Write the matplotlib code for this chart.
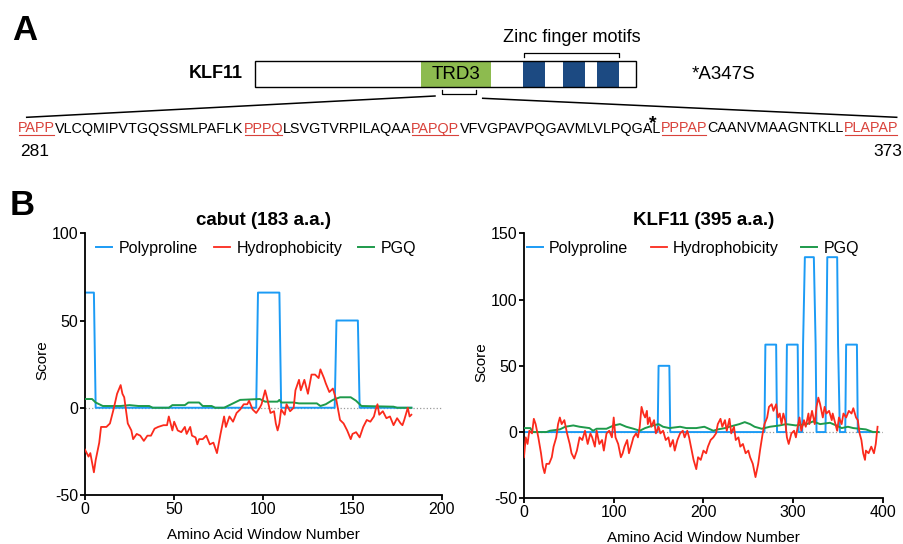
import numpy as np
import matplotlib
matplotlib.use('Agg')
import matplotlib.pyplot as plt
from matplotlib.patches import Rectangle
from matplotlib.transforms import IdentityTransform

plt.rcParams['font.family'] = ['Liberation Sans', 'DejaVu Sans']
plt.rcParams['axes.unicode_minus'] = False

# ---------------- 数据 ----------------
# cabut (183 a.a.)
cabut_poly_x = [0, 5, 6, 96, 97, 109, 110, 140, 141, 153, 154, 183]
cabut_poly_y = [66, 66, 0, 0, 66, 66, 0, 0, 50, 50, 0, 0]

cabut_hyd_x = [0, 2, 3, 5, 6, 8, 9, 12, 14, 16, 18, 20, 21, 22, 24, 26, 27, 29, 31, 33,
               35, 37, 39, 41, 44, 46, 47, 49, 50, 52, 54, 56, 57, 59, 60, 62, 63, 64, 66, 68,
               70, 72, 74, 76, 78, 79, 81, 83, 85, 87, 89, 91, 92, 94, 96, 98, 99, 101, 102, 104,
               106, 107, 108, 109, 110, 112, 113, 115, 117, 118, 120, 121, 123, 125, 127, 129, 131, 132, 134, 135,
               137, 139, 141, 143, 145, 147, 149, 150, 152, 154, 156, 158, 160, 162, 163, 164, 165, 167, 169, 171,
               173, 175, 177, 178, 179, 181, 182, 183]
cabut_hyd_y = [-24, -28, -26, -37, -30, -20, -11, -11, -9, -1, 8, 13, 8, 6, -9, -13, -18, -15, -16, -19,
               -16, -16, -12, -11, -10, -10, -5, -13, -8, -13, -14, -11, -15, -11, -16, -17, -21, -18, -18, -16,
               -21, -20, -26, -15, -5, -11, -5, -8, -3, -1, 2, 2, 4, -1, -3, 0, 2, 10, 6, -3,
               -2, -9, -13, -9, -1, -4, 2, -2, 0, 10, 16, 10, 16, 8, 19, 19, 17, 22, 17, 14,
               9, 11, 4, -7, -9, -13, -18, -15, -14, -17, -11, -7, -8, -5, -1, 2, -4, -2, -6, -5,
               -10, -6, -9, -10, -7, 0, -5, -4]

cabut_pgq_x = [0, 4, 6, 8, 10, 20, 25, 30, 36, 38, 47, 49, 56, 58, 64, 66, 71, 73, 78, 82,
               87, 98, 101, 108, 109, 110, 117, 120, 130, 132, 135, 139, 143, 149, 152, 155, 173, 175, 183]
cabut_pgq_y = [5, 5, 3, 2, 1, 1, 1.5, 1, 1, 0, 0, 1.5, 1.5, 3, 3, 1, 1, 0, 0, 2,
               4.5, 5, 3.5, 3.5, 4.5, 3, 3, 2.5, 2.5, 1, 2, 4.5, 6, 6, 4, 1, 0.6, 0, 0]

# KLF11 (395 a.a.)
klf_poly_x = [0, 149, 150, 162, 163, 268, 269, 281, 282, 292, 293, 305, 306, 310, 311, 313,
              323, 325, 326, 336, 337, 338, 349, 350, 352, 358, 359, 371, 372, 395]
klf_poly_y = [0, 0, 50, 50, 0, 0, 66, 66, 0, 0, 66, 66, 0, 0, 66, 132,
              132, 66, 0, 0, 66, 132, 132, 66, 0, 0, 66, 66, 0, 0]

klf_hyd_x = [0, 2, 4, 6, 9, 11, 13, 16, 19, 21, 23, 25, 28, 31, 33, 36, 38, 40, 42, 45,
             48, 51, 53, 56, 59, 62, 65, 68, 71, 74, 76, 79, 81, 84, 87, 89, 92, 95, 98, 100,
             102, 105, 108, 110, 112, 115, 117, 120, 122, 125, 127, 129, 131, 133, 135, 137, 138, 140, 142, 145,
             147, 150, 152, 155, 158, 161, 163, 166, 168, 171, 174, 177, 179, 182, 184, 187, 189, 192, 194, 197,
             200, 203, 205, 208, 211, 214, 216, 219, 221, 224, 226, 229, 231, 234, 236, 239, 241, 244, 247, 250,
             252, 255, 258, 261, 263, 266, 268, 271, 273, 276, 278, 281, 283, 285, 287, 289, 291, 293, 295, 298,
             301, 303, 305, 307, 309, 312, 314, 317, 318, 321, 324, 326, 328, 330, 333, 335, 337, 340, 343, 344,
             347, 349, 351, 354, 356, 359, 362, 365, 367, 370, 372, 374, 376, 378, 380, 381, 384, 387, 390, 392,
             394]
klf_hyd_y = [-19, -4, -9, 1, -1, 10, 6, -4, -16, -26, -31, -24, -24, -19, -11, -4, 6, 11, 6, 9,
             -1, -9, -16, -20, -14, -4, -6, 1, -9, -1, -4, -11, 1, -9, -6, -14, -1, 1, -4, 11,
             -4, -9, -19, -16, -11, -6, -16, -9, -4, -1, -4, 4, 19, 14, 11, 16, 6, 11, 4, 9,
             -1, 4, -1, 1, -6, -4, -11, -6, -14, -6, -1, 1, -4, 1, -4, -14, -21, -28, -19, -21,
             -14, -16, -11, -6, -4, -1, 6, 10, 4, 9, 1, 10, -1, 4, -6, -4, -11, -9, -16, -14,
             -19, -24, -34, -24, -14, -1, 6, 11, 19, 21, 16, 21, 11, 14, 6, 14, 9, -4, -9, -1,
             1, -4, 4, 11, 1, 9, 4, 14, 6, 16, 6, 19, 26, 21, 11, 19, 14, 16, 9, 14,
             6, 1, 11, 6, 14, 11, 16, 14, 18, 11, 9, -1, -6, -16, -21, -14, -16, -11, -16, -9,
             4]

klf_pgq_x = [0, 7, 10, 25, 29, 40, 46, 55, 62, 73, 77, 81, 92, 100, 107, 114, 122, 129, 135, 144,
             150, 155, 162, 174, 181, 192, 201, 211, 216, 224, 229, 240, 246, 252, 257, 265, 274, 285, 292, 303,
             315, 322, 330, 341, 348, 354, 361, 367, 374, 381, 389, 395]
klf_pgq_y = [3, 3, 0, 0, 1, 2, 4, 5, 4, 3, 1, 2.5, 2.5, 5, 6, 4, 2.5, 1, 3, 5,
             6, 4, 3, 4, 3, 3, 4, 1, 2, 3, 4, 6, 7.5, 6, 4, 2.5, 4, 5, 6, 5,
             6, 8, 6, 7, 5, 3, 4, 3, 2.5, 2, 0, 0]

# A 部分的序列片段 (文字, 是否标红)
seq_segments = [('PAPP', True), ('VLCQMIPVTGQSSMLPAFLK', False), ('PPPQ', True),
                ('LSVGTVRPILAQAA', False), ('PAPQP', True), ('VFVGPAVPQGAVMLVLPQGAL', False),
                ('PPPAP', True), ('CAANVMAAGNTKLL', False), ('PLAPAP', True)]

c_blue = '#1b9bf5'
c_red = '#fb2a1c'
c_green = '#1e9a4b'
c_seq_red = '#d9423b'


def ink_extent(s, size):
    # 在草稿画布上画出文字, 找出墨迹的左右边界 (相对锚点, 像素)
    f = plt.figure(figsize=(12, 0.6), dpi=100)
    f.text(10, 30, s, fontsize=size, ha='left', va='center', transform=IdentityTransform())
    f.canvas.draw()
    a = np.asarray(f.canvas.buffer_rgba())[:, :, 0]
    cols = np.where((a < 230).any(axis=0))[0]
    plt.close(f)
    return cols.min() - 10, cols.max() + 1 - 10


fig = plt.figure(figsize=(9.04, 5.44), dpi=100)

# ---------------- A ----------------
ax0 = fig.add_axes([0, 0, 1, 1])
ax0.set_xlim(0, 904)
ax0.set_ylim(544, 0)
ax0.axis('off')

ax0.text(12, 40, 'A', fontsize=25, fontweight='bold', ha='left', va='baseline')
ax0.text(243, 74, 'KLF11', fontsize=13, fontweight='bold', ha='right', va='center')
ax0.add_patch(Rectangle((421, 61), 70, 26, fc='#8dbb4f', ec='none'))
for x0 in [523, 563, 597]:
    ax0.add_patch(Rectangle((x0, 61), 22.5, 26, fc='#1c4a82', ec='none'))
ax0.add_patch(Rectangle((255, 61), 381, 26, fc='none', ec='black', lw=1.0))
ax0.text(456, 74.5, 'TRD3', fontsize=13.5, ha='center', va='center')
ax0.text(692, 74.5, '*A347S', fontsize=13.5, ha='left', va='center')
ax0.text(572, 41.5, 'Zinc finger motifs', fontsize=13, ha='center', va='baseline')
ax0.plot([524, 524, 619, 619], [56.7, 52.7, 52.7, 56.7], color='black', lw=0.9)
ax0.plot([442, 442, 476, 476], [89.5, 94.3, 94.3, 89.5], color='black', lw=0.9)
ax0.plot([26.7, 435], [117.3, 96], color='black', lw=1.1)
ax0.plot([482.7, 896.7], [98.3, 117.3], color='black', lw=1.1)

# 序列文字: 按整串渲染后的墨迹位置, 一段一段地排
full = ''.join(s for s, _ in seq_segments)
l0, r0 = ink_extent(full, 10)
fs = 10 * 884 / (r0 - l0)
fl, fr = ink_extent(full, fs)
x_start = 19.3 - fl
y_base = 132.5
prefix = ''
for seg, red in seq_segments:
    _, right_in_full = ink_extent(prefix + seg, fs)
    sl, sr = ink_extent(seg, fs)
    x = x_start + right_in_full - sr
    ax0.text(x, y_base, seg, fontsize=fs, color=c_seq_red if red else 'black',
             ha='left', va='baseline')
    if red:
        ax0.plot([x + sl, x + sr], [134.5, 134.5], color=c_seq_red, lw=0.8)
    prefix += seg
ax0.text(652.7, 128.5, '*', fontsize=14, fontweight='bold', ha='center', va='baseline')
ax0.text(20, 156, '281', fontsize=12.5, ha='left', va='baseline')
ax0.text(902, 156, '373', fontsize=12.5, ha='right', va='baseline')

# ---------------- B ----------------
ax0.text(10, 215, 'B', fontsize=25, fontweight='bold', ha='left', va='baseline')


def draw_panel(ax, title, px, py, hx, hy, gx, gy, xmax, xticks, ylim, yticks, lab_y,
               leg_x, colsp):
    ax.plot([0, xmax], [0, 0], color='#9a9a9a', ls=':', lw=0.9, zorder=1)
    ax.plot(px, py, color=c_blue, lw=1.4, label='Polyproline', zorder=2)
    ax.plot(hx, hy, color=c_red, lw=1.3, label='Hydrophobicity', zorder=4)
    ax.plot(gx, gy, color=c_green, lw=1.4, label='PGQ', zorder=3)
    ax.set_xlim(0, xmax)
    ax.set_ylim(*ylim)
    ax.set_xticks(xticks)
    ax.set_yticks(yticks)
    for s in ['top', 'right']:
        ax.spines[s].set_visible(False)
    for s in ['left', 'bottom']:
        ax.spines[s].set_linewidth(1.3)
    ax.tick_params(direction='out', length=3.5, width=1.3, labelsize=11.5, pad=1.5)
    ax.set_title(title, fontsize=13.5, fontweight='bold', pad=6)
    ax.set_xlabel('Amino Acid Window Number', fontsize=11)
    ax.set_ylabel('Score', fontsize=11)
    ax.xaxis.set_label_coords(0.5, lab_y)
    ax.yaxis.set_label_coords(-0.10, 0.515)
    ax.legend(loc='center left', bbox_to_anchor=(leg_x, 0.943), ncol=3, frameon=False,
              fontsize=11.5, handlelength=1.0, handletextpad=0.4, columnspacing=colsp,
              borderaxespad=0, borderpad=0)


ax1 = fig.add_axes([0.0940, 0.0901, 0.3946, 0.4811])
draw_panel(ax1, 'cabut (183 a.a.)', cabut_poly_x, cabut_poly_y, cabut_hyd_x, cabut_hyd_y,
           cabut_pgq_x, cabut_pgq_y, 200, [0, 50, 100, 150, 200], (-50, 100),
           [-50, 0, 50, 100], -0.127, 0.032, 1.0)

ax2 = fig.add_axes([0.5796, 0.0840, 0.3971, 0.4871])
draw_panel(ax2, 'KLF11 (395 a.a.)', klf_poly_x, klf_poly_y, klf_hyd_x, klf_hyd_y,
           klf_pgq_x, klf_pgq_y, 400, [0, 100, 200, 300, 400], (-50, 150),
           [-50, 0, 50, 100, 150], -0.122, 0.008, 1.4)

fig.savefig('out.png', dpi=100)
